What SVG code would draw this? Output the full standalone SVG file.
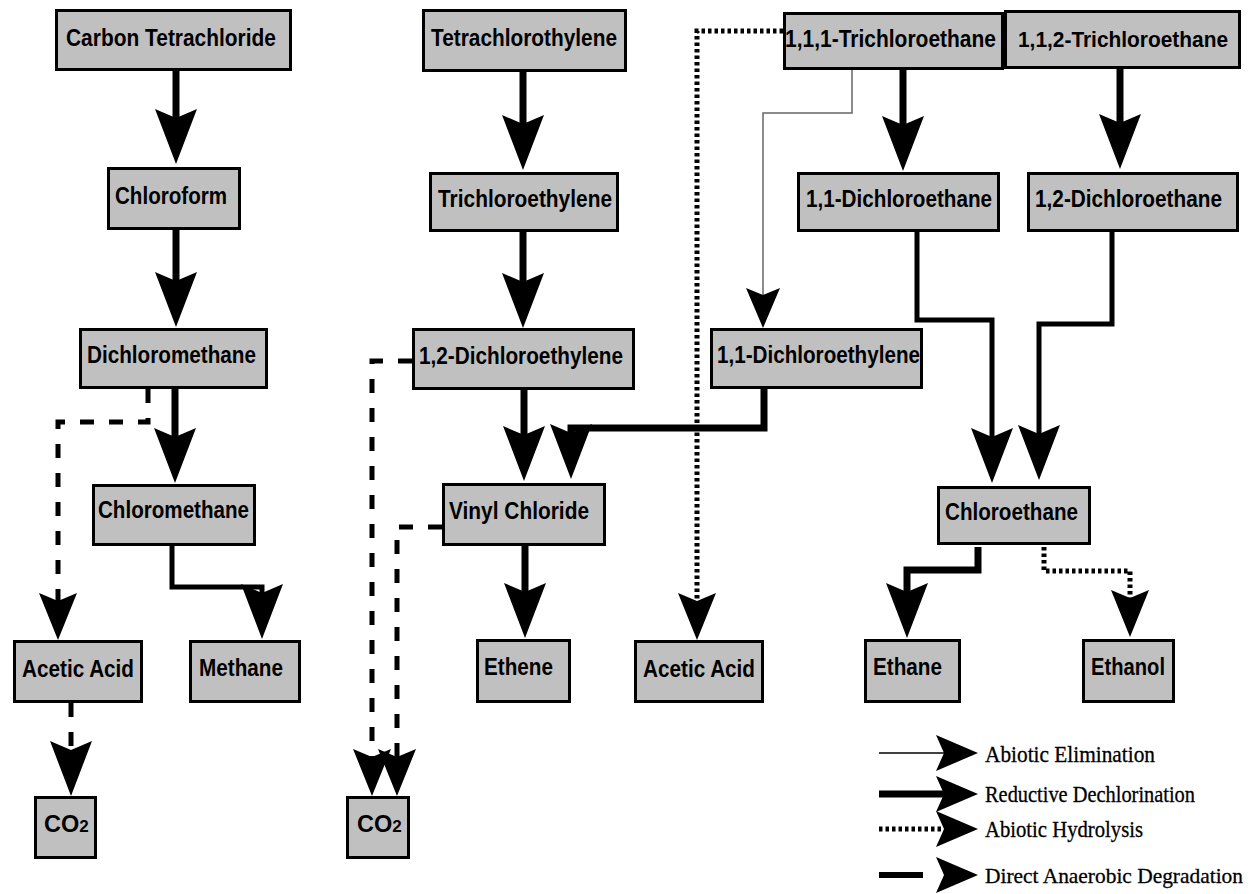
<svg xmlns="http://www.w3.org/2000/svg" width="1251" height="894" viewBox="0 0 1251 894">
<style>
.box{fill:#c0c0c0;stroke:#000;stroke-width:3}
.lbl{font-family:"Liberation Sans",Arial,sans-serif;font-weight:bold;font-size:23.5px;fill:#000}
.leg{font-family:"Liberation Serif","Times New Roman",serif;font-size:23px;fill:#000;stroke:#000;stroke-width:0.3}
.c{fill:none;stroke:#000;stroke-linejoin:miter;stroke-linecap:butt}
.red{stroke-width:7}
.dir{stroke-width:5}
.dash{stroke-width:5;stroke-dasharray:14 15}
.dot{stroke-width:5;stroke-dasharray:3.5 3}
.thin{stroke-width:1.5;stroke:#666}
</style>
<defs>
<marker id="ahb" viewBox="0 -21 55 42" markerWidth="55" markerHeight="42" refX="9" refY="0" orient="auto" markerUnits="userSpaceOnUse"><path d="M0,-21 L55,0 L0,21 L9,0 Z" fill="#000"/></marker>
<marker id="ahm" viewBox="0 -19 47 38" markerWidth="47" markerHeight="38" refX="8" refY="0" orient="auto" markerUnits="userSpaceOnUse"><path d="M0,-19 L47,0 L0,19 L8,0 Z" fill="#000"/></marker>
<marker id="ahs" viewBox="0 -17 40 34" markerWidth="40" markerHeight="34" refX="7" refY="0" orient="auto" markerUnits="userSpaceOnUse"><path d="M0,-17 L40,0 L0,17 L7,0 Z" fill="#000"/></marker>
<marker id="ahl" viewBox="0 -18 42 36" markerWidth="42" markerHeight="36" refX="8" refY="0" orient="auto" markerUnits="userSpaceOnUse"><path d="M0,-18 L42,0 L0,18 L8,0 Z" fill="#000"/></marker>
</defs>

<g id="connectors">
<path class="c red" d="M176,71 V118" marker-end="url(#ahb)"/>
<path class="c red" d="M176,230 V281" marker-end="url(#ahb)"/>
<path class="c red" d="M175,389 V437" marker-end="url(#ahb)"/>
<path class="c red" d="M523,72 V124" marker-end="url(#ahb)"/>
<path class="c red" d="M523,232 V282" marker-end="url(#ahb)"/>
<path class="c red" d="M524,390 V435" marker-end="url(#ahb)"/>
<path class="c red" d="M764,389 V428 H571 V433" marker-end="url(#ahb)"/>
<path class="c red" d="M903,70 V125" marker-end="url(#ahb)"/>
<path class="c red" d="M1120,69 V123" marker-end="url(#ahb)"/>
<path class="c red" d="M525,546 V592" marker-end="url(#ahb)"/>
<path class="c red" d="M978,547 V570 H907 V592" marker-end="url(#ahb)"/>
<path class="c dir" d="M172,546 V587 H262 V593" marker-end="url(#ahb)"/>
<path class="c dir" d="M917,232 V320 H992 V437" marker-end="url(#ahb)"/>
<path class="c dir" d="M1112,232 V324 H1039 V434" marker-end="url(#ahb)"/>
<path class="c dash" d="M148,389 V422 H58 V601" marker-end="url(#ahm)"/>
<path class="c dash" d="M71,703 V750" marker-end="url(#ahb)"/>
<path class="c dash" d="M412,361 H372 V757" marker-end="url(#ahm)"/>
<path class="c dash" d="M442,527 H397 V757" marker-end="url(#ahm)"/>
<path class="c dot" d="M783,31 H697 V601" marker-end="url(#ahm)"/>
<path class="c dot" d="M1044,547 V571 H1130 V598" marker-end="url(#ahm)"/>
<path class="c thin" d="M852,70 V113 H763 V295" marker-end="url(#ahs)"/>
</g>

<g id="n-carbon-tetrachloride"><rect class="box" x="56.5" y="10.5" width="234" height="59"/><text class="lbl" x="66" y="46" textLength="210" lengthAdjust="spacingAndGlyphs">Carbon Tetrachloride</text></g>
<g id="n-chloroform"><rect class="box" x="108.5" y="168.5" width="131" height="60"/><text class="lbl" x="115" y="204" textLength="112" lengthAdjust="spacingAndGlyphs">Chloroform</text></g>
<g id="n-tetrachlorothylene"><rect class="box" x="423.5" y="10.5" width="202" height="60"/><text class="lbl" x="431" y="46" textLength="186" lengthAdjust="spacingAndGlyphs">Tetrachlorothylene</text></g>
<g id="n-trichloroethylene"><rect class="box" x="430.5" y="173.5" width="187" height="57"/><text class="lbl" x="438" y="207" textLength="174" lengthAdjust="spacingAndGlyphs">Trichloroethylene</text></g>
<g id="n-111-trichloroethane"><rect class="box" x="784.5" y="13.5" width="218" height="55"/><text class="lbl" x="785" y="47" textLength="211" lengthAdjust="spacingAndGlyphs">1,1,1-Trichloroethane</text></g>
<g id="n-112-trichloroethane"><rect class="box" x="1005.5" y="11.5" width="234" height="56"/><text class="lbl" x="1018" y="47" font-size="22" textLength="210" lengthAdjust="spacingAndGlyphs" style="font-size:22px">1,1,2-Trichloroethane</text></g>
<g id="n-11-dichloroethane"><rect class="box" x="798.5" y="173.5" width="200" height="57"/><text class="lbl" x="806" y="207" textLength="186" lengthAdjust="spacingAndGlyphs">1,1-Dichloroethane</text></g>
<g id="n-12-dichloroethane"><rect class="box" x="1028.5" y="173.5" width="209" height="57"/><text class="lbl" x="1035" y="207" textLength="187" lengthAdjust="spacingAndGlyphs">1,2-Dichloroethane</text></g>
<g id="n-dichloromethane"><rect class="box" x="80.5" y="329.5" width="186" height="58"/><text class="lbl" x="87" y="363" textLength="169" lengthAdjust="spacingAndGlyphs">Dichloromethane</text></g>
<g id="n-chloromethane"><rect class="box" x="93.5" y="485.5" width="161" height="59"/><text class="lbl" x="98" y="518" textLength="151" lengthAdjust="spacingAndGlyphs">Chloromethane</text></g>
<g id="n-12-dichloroethylene"><rect class="box" x="413.5" y="329.5" width="220" height="59"/><text class="lbl" x="419" y="364" textLength="204" lengthAdjust="spacingAndGlyphs">1,2-Dichloroethylene</text></g>
<g id="n-vinyl-chloride"><rect class="box" x="443.5" y="484.5" width="161" height="60"/><text class="lbl" x="449" y="519" textLength="140" lengthAdjust="spacingAndGlyphs">Vinyl Chloride</text></g>
<g id="n-11-dichloroethylene"><rect class="box" x="711.5" y="329.5" width="210" height="58"/><text class="lbl" x="717" y="363" textLength="203" lengthAdjust="spacingAndGlyphs">1,1-Dichloroethylene</text></g>
<g id="n-chloroethane"><rect class="box" x="938.5" y="487.5" width="151" height="56"/><text class="lbl" x="945" y="520" textLength="133" lengthAdjust="spacingAndGlyphs">Chloroethane</text></g>
<g id="n-ethane"><rect class="box" x="865.5" y="640.5" width="94" height="61"/><text class="lbl" x="873" y="675" textLength="69" lengthAdjust="spacingAndGlyphs">Ethane</text></g>
<g id="n-ethanol"><rect class="box" x="1083.5" y="640.5" width="90" height="61"/><text class="lbl" x="1091" y="675" textLength="74" lengthAdjust="spacingAndGlyphs">Ethanol</text></g>
<g id="n-acetic-acid-1"><rect class="box" x="14.5" y="641.5" width="127" height="60"/><text class="lbl" x="22" y="677" textLength="112" lengthAdjust="spacingAndGlyphs">Acetic Acid</text></g>
<g id="n-methane"><rect class="box" x="190.5" y="641.5" width="109" height="60"/><text class="lbl" x="199" y="676" textLength="84" lengthAdjust="spacingAndGlyphs">Methane</text></g>
<g id="n-ethene"><rect class="box" x="477.5" y="640.5" width="92" height="61"/><text class="lbl" x="484" y="675" textLength="69" lengthAdjust="spacingAndGlyphs">Ethene</text></g>
<g id="n-acetic-acid-2"><rect class="box" x="635.5" y="641.5" width="127" height="60"/><text class="lbl" x="643" y="677" textLength="112" lengthAdjust="spacingAndGlyphs">Acetic Acid</text></g>
<g id="n-co2-1"><rect class="box" x="35.5" y="797.5" width="60" height="60"/><text class="lbl" x="44" y="832">CO<tspan font-size="17">2</tspan></text></g>
<g id="n-co2-2"><rect class="box" x="347.5" y="797.5" width="61" height="60"/><text class="lbl" x="357" y="832">CO<tspan font-size="17">2</tspan></text></g>

<g id="legend">
<path class="c" stroke-width="1.5" d="M879,753 H944" marker-end="url(#ahl)"/>
<path class="c red" d="M879,794 H944" marker-end="url(#ahl)"/>
<path class="c dot" d="M879,829 H944" marker-end="url(#ahl)"/>
<path class="c" stroke-width="6" stroke-dasharray="44 40" d="M879,875 H944" marker-end="url(#ahl)"/>
<text class="leg" x="985" y="762" textLength="170" lengthAdjust="spacingAndGlyphs">Abiotic Elimination</text>
<text class="leg" x="985" y="802" textLength="210" lengthAdjust="spacingAndGlyphs">Reductive Dechlorination</text>
<text class="leg" x="985" y="837" textLength="158" lengthAdjust="spacingAndGlyphs">Abiotic Hydrolysis</text>
<text class="leg" x="985" y="883" textLength="258" lengthAdjust="spacingAndGlyphs" style="font-size:22px">Direct Anaerobic Degradation</text>
</g>
</svg>
